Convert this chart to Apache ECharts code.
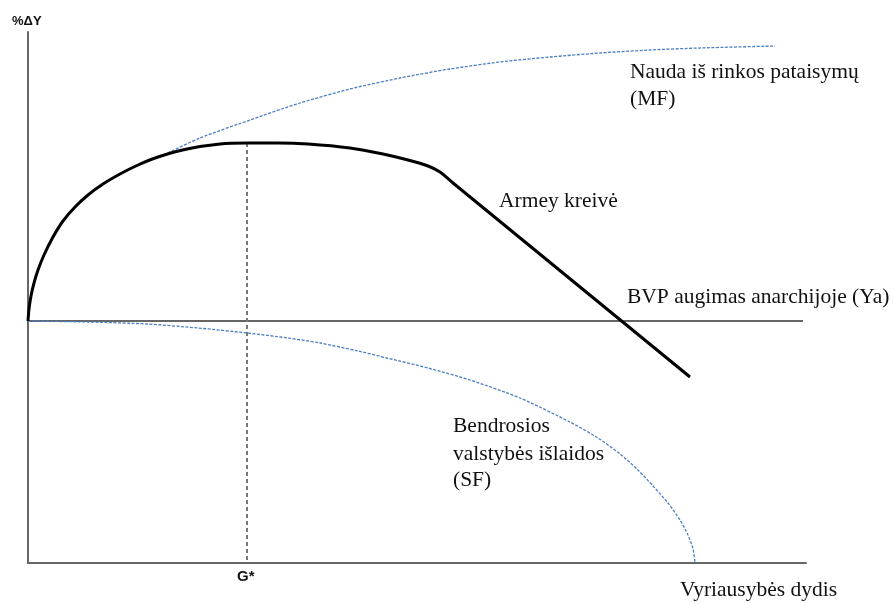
<!DOCTYPE html>
<html>
<head>
<meta charset="utf-8">
<script src="https://cdn.jsdelivr.net/npm/echarts@6/dist/echarts.min.js"></script>
<style>
html,body{margin:0;padding:0;background:#fff;}
#chart{width:894px;height:604px;}
</style>
</head>
<body>
<div id="chart"></div>
<script>
// Values (x: government size, y: %ΔY relative to anarchy growth)
const xRange = [0, 778];
const yRange = [-242, 289];
const mfCurve = [[0,0],[1,12],[3,25],[6,38],[10,51],[16,66],[25,84],[35,100],[47,114],[60,126],[75,137],[92,147],[110,156],[135,166],[172,183],[222,201],[272,218],[322,232],[372,243],[422,252],[472,259],[522,264],[572,268],[622,271],[672,273],[747,275]];
const armeyCurve = [[0,0],[1,12],[3,25],[6,38],[10,51],[16,66],[25,84],[35,100],[47,114],[60,126],[75,137],[92,147],[110,156],[130,164],[159,172],[192,177],[219,178],[250,178],[280,177],[322,173],[355,167],[380,161],[400,155],[412,149],[425,138],[662,-56]];
const sfCurve = [[0,0],[60,-1],[119,-3],[170,-7],[219,-12],[260,-17],[292,-22],[330,-30],[359,-37],[400,-47],[442,-59],[492,-77],[542,-101],[570,-117],[592,-133],[610,-149],[625,-165],[640,-182],[652,-199],[660,-214],[665,-228],[667,-241]];
const yaLine = [[0,0],[775,0]];
const gStar = 219;
const gStarLine = [[gStar,178],[gStar,-242]];

const labels = {
  yAxis: '%ΔY',
  xAxis: 'Vyriausybės dydis',
  gStar: 'G*',
  mf: ['Nauda iš rinkos pataisymų', '(MF)'],
  armey: 'Armey kreivė',
  ya: 'BVP augimas anarchijoje (Ya)',
  sf: ['Bendrosios', 'valstybės išlaidos', '(SF)']
};

const serif = '"Liberation Serif","DejaVu Serif",serif';
const sans = '"Liberation Sans",Arial,sans-serif';
const blue = '#4a7fc4';

function txt(text, left, middleY, size, font, weight) {
  return {
    type: 'text', left: left, top: middleY - size / 2,
    style: { text: text, font: (weight || 'normal') + ' ' + size + 'px ' + font, fill: '#111' }
  };
}

const chart = echarts.init(document.getElementById('chart'), null, {renderer: 'canvas'});
chart.setOption({
  animation: false,
  backgroundColor: '#fff',
  grid: {left: 28, right: 88, top: 32, bottom: 41},
  xAxis: {
    type: 'value', min: xRange[0], max: xRange[1],
    axisLine: {show: true, onZero: false, lineStyle: {color: '#666', width: 2}},
    axisTick: {show: false}, axisLabel: {show: false}, splitLine: {show: false}
  },
  yAxis: {
    type: 'value', min: yRange[0], max: yRange[1],
    axisLine: {show: true, onZero: false, lineStyle: {color: '#666', width: 2}},
    axisTick: {show: false}, axisLabel: {show: false}, splitLine: {show: false}
  },
  series: [
    {type: 'line', data: yaLine, symbol: 'none', lineStyle: {color: '#666', width: 2}, z: 1},
    {type: 'line', data: gStarLine, symbol: 'none', lineStyle: {color: '#777', width: 2, type: [4, 3]}, z: 1},
    {type: 'line', data: mfCurve, symbol: 'none', smooth: 0.25, lineStyle: {color: blue, width: 1.3, type: [3, 1.5]}, z: 2},
    {type: 'line', data: sfCurve, symbol: 'none', smooth: 0.25, lineStyle: {color: blue, width: 1.3, type: [3, 1.5]}, z: 2},
    {type: 'line', data: armeyCurve, symbol: 'none', smooth: 0.25, lineStyle: {color: '#000', width: 3}, z: 3}
  ],
  graphic: [
    txt(labels.yAxis, 12, 21, 13, sans, 'bold'),
    txt(labels.gStar, 237, 577, 15, sans, 'bold'),
    txt(labels.xAxis, 680, 590, 21.5, serif),
    txt(labels.mf[0], 630, 72, 21.5, serif),
    txt(labels.mf[1], 630, 99, 21.5, serif),
    txt(labels.armey, 499, 201, 21.5, serif),
    txt(labels.ya, 627, 297, 21.5, serif),
    txt(labels.sf[0], 453, 426, 21.5, serif),
    txt(labels.sf[1], 453, 454, 21.5, serif),
    txt(labels.sf[2], 453, 480, 21.5, serif)
  ]
});
</script>
</body>
</html>
